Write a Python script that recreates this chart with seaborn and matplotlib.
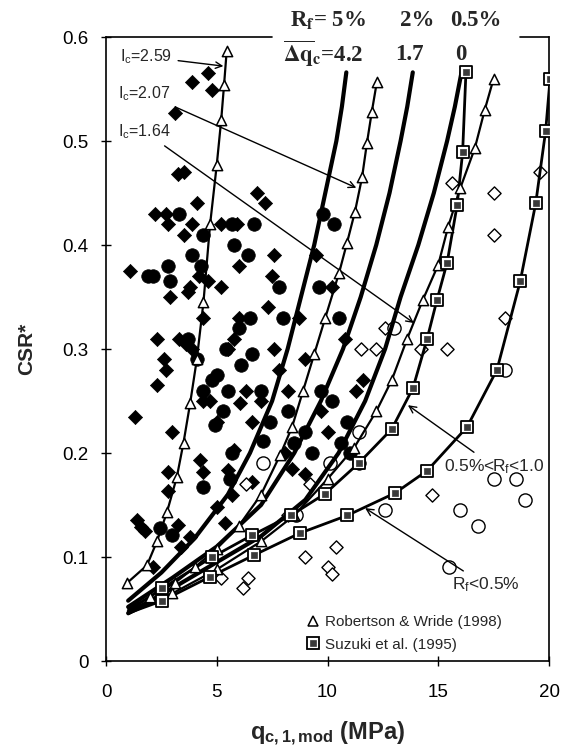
import numpy as np
import pandas as pd
import seaborn as sns
import matplotlib
matplotlib.use("Agg")
import matplotlib.pyplot as plt
from matplotlib.lines import Line2D
from matplotlib.legend_handler import HandlerTuple

# ---------------- data ----------------
# Robertson & Wride (1998) curves (triangles)
ic259_q = [0.95, 1.85, 2.3, 2.75, 3.2, 3.5, 3.8, 4.1, 4.4, 4.7, 5.0, 5.2, 5.33, 5.45]
ic259_csr = [0.075, 0.092, 0.115, 0.143, 0.177, 0.21, 0.248, 0.29, 0.345, 0.42, 0.477, 0.52, 0.554, 0.587]
ic207_q = [1.0, 2.0, 3.1, 4.0, 5.0, 6.0, 7.0, 7.86, 8.4, 8.9, 9.4, 9.9, 10.52, 10.88, 11.24, 11.56, 11.78, 12.0, 12.23]
ic207_csr = [0.05, 0.062, 0.075, 0.09, 0.108, 0.13, 0.16, 0.198, 0.225, 0.26, 0.295, 0.33, 0.373, 0.402, 0.432, 0.465, 0.498, 0.528, 0.557]
ic164_q = [1.0, 3.0, 5.0, 7.0, 8.5, 10.0, 11.2, 12.2, 12.9, 13.6, 14.3, 15.0, 15.44, 16.0, 16.65, 17.1, 17.5]
ic164_csr = [0.045, 0.065, 0.088, 0.115, 0.14, 0.175, 0.205, 0.24, 0.27, 0.31, 0.347, 0.381, 0.417, 0.455, 0.493, 0.53, 0.56]

# proposed boundaries (thick)
rf5_q = [1.0, 2.5, 4.0, 5.5, 6.5, 7.5, 8.2, 8.8, 9.4, 9.9, 10.4, 10.65, 10.85]
rf5_csr = [0.058, 0.085, 0.118, 0.16, 0.2, 0.25, 0.3, 0.35, 0.4, 0.45, 0.5, 0.533, 0.566]
rf2_q = [1.0, 3.0, 5.0, 7.0, 8.5, 9.7, 10.7, 11.5, 12.2, 12.8, 13.3, 13.6, 13.85]
rf2_csr = [0.052, 0.08, 0.11, 0.15, 0.2, 0.25, 0.3, 0.35, 0.4, 0.45, 0.5, 0.533, 0.566]
rf05_q = [1.0, 3.0, 5.0, 7.0, 9.0, 10.5, 11.7, 12.6, 13.3, 14.1, 14.8, 15.4, 15.75, 16.05]
rf05_csr = [0.046, 0.07, 0.095, 0.12, 0.155, 0.2, 0.25, 0.3, 0.35, 0.4, 0.45, 0.5, 0.533, 0.566]

# Suzuki et al. (1995) curves (squares)
suz_mid_q = [1.0, 2.55, 4.8, 6.6, 8.35, 9.9, 11.4, 12.9, 13.86, 14.5, 14.94, 15.4, 15.85, 16.1, 16.25]
suz_mid_csr = [0.048, 0.07, 0.1, 0.121, 0.14, 0.161, 0.19, 0.223, 0.2625, 0.31, 0.347, 0.383, 0.438, 0.489, 0.566]
suz_low_q = [1.0, 2.55, 4.7, 6.7, 8.76, 10.9, 13.05, 14.5, 16.3, 17.65, 18.7, 19.4, 19.85, 20.05]
suz_low_csr = [0.046, 0.058, 0.081, 0.102, 0.123, 0.14, 0.1615, 0.183, 0.225, 0.28, 0.365, 0.44, 0.51, 0.56]

# case-history points
fd_q = [4.6, 3.9, 4.8, 3.1, 3.25, 1.1, 1.3, 1.4, 1.6, 1.75, 2.2, 2.7, 2.3, 2.6, 2.7, 2.3, 2.8, 2.9, 2.8, 2.8,
        3.0, 3.25, 3.8, 3.5, 3.5, 3.9, 4.1, 3.8, 3.7, 4.2, 4.6, 4.4, 3.3, 3.6, 3.9, 4.4, 4.7, 5.0, 4.24, 4.38,
        5.5, 5.8, 6.05, 5.0, 5.37, 5.7, 6.6, 2.1, 3.4, 5.5, 5.8, 6.0, 5.2, 5.9, 6.0, 5.2, 6.8, 7.2, 6.3, 6.6,
        7.0, 7.3, 7.6, 7.5, 8.2, 8.7, 9.0, 8.1, 8.4, 9.0, 9.5, 10.2, 10.8, 9.7, 10.0, 11.3, 11.6, 7.6, 7.8]
fd_csr = [0.565, 0.557, 0.549, 0.527, 0.468, 0.375, 0.235, 0.136, 0.129, 0.125, 0.43, 0.43, 0.31, 0.29, 0.28, 0.265, 0.42, 0.35, 0.182, 0.163,
          0.22, 0.131, 0.119, 0.47, 0.41, 0.42, 0.44, 0.36, 0.355, 0.37, 0.365, 0.33, 0.31, 0.305, 0.30, 0.25, 0.25, 0.23, 0.193, 0.182,
          0.184, 0.203, 0.248, 0.148, 0.133, 0.16, 0.172, 0.09, 0.11, 0.3, 0.31, 0.33, 0.42, 0.42, 0.38, 0.36, 0.45, 0.44, 0.26, 0.23,
          0.25, 0.34, 0.39, 0.37, 0.26, 0.33, 0.29, 0.2, 0.185, 0.18, 0.39, 0.36, 0.31, 0.24, 0.22, 0.26, 0.27, 0.3, 0.28]
fc_q = [1.9, 2.1, 2.8, 2.9, 2.44, 2.98, 3.3, 3.9, 4.4, 4.3, 3.7, 4.1, 4.4, 4.8, 5.0, 5.5, 4.9, 4.38, 7.1, 7.4,
        5.3, 5.6, 5.7, 5.4, 6.0, 6.1, 5.7, 6.7, 6.4, 5.8, 6.5, 6.6, 7.0, 7.8, 8.0, 8.2, 8.5, 9.0, 9.3, 9.6,
        9.8, 10.3, 10.5, 10.2, 10.9, 10.6, 9.7, 11.0, 11.4]
fc_csr = [0.37, 0.37, 0.38, 0.365, 0.128, 0.121, 0.43, 0.39, 0.41, 0.38, 0.31, 0.29, 0.26, 0.27, 0.275, 0.26, 0.227, 0.167, 0.212, 0.23,
          0.24, 0.175, 0.2, 0.3, 0.32, 0.285, 0.42, 0.42, 0.39, 0.4, 0.33, 0.295, 0.26, 0.36, 0.33, 0.24, 0.21, 0.22, 0.2, 0.36,
          0.43, 0.42, 0.33, 0.25, 0.23, 0.21, 0.26, 0.2, 0.19]
od_q = [6.2, 6.4, 5.2, 9.0, 10.0, 10.4, 10.2, 12.2, 14.2, 15.4, 15.6, 17.5, 17.5, 18.0, 19.6, 6.3, 8.2, 9.2, 11.5, 14.7, 12.6]
od_csr = [0.07, 0.08, 0.08, 0.1, 0.09, 0.11, 0.084, 0.3, 0.3, 0.3, 0.46, 0.45, 0.41, 0.33, 0.47, 0.17, 0.14, 0.17, 0.3, 0.16, 0.32]
oc_q = [7.1, 10.1, 11.4, 13.0, 12.6, 15.5, 16.0, 16.8, 17.5, 18.0, 18.5, 18.9, 8.6]
oc_csr = [0.19, 0.19, 0.22, 0.32, 0.145, 0.09, 0.145, 0.13, 0.175, 0.28, 0.175, 0.155, 0.14]

x_ticks = [0, 5, 10, 15, 20]
y_ticks = [0, 0.1, 0.2, 0.3, 0.4, 0.5, 0.6]
y_ticklabels = ["0", "0.1", "0.2", "0.3", "0.4", "0.5", "0.6"]

# ---------------- style ----------------
sns.set_style("ticks")
plt.rcParams["font.family"] = ["Liberation Sans", "DejaVu Sans"]
plt.rcParams["mathtext.fontset"] = "custom"
plt.rcParams["mathtext.rm"] = "Liberation Sans"
plt.rcParams["mathtext.it"] = "Liberation Sans"
plt.rcParams["mathtext.bf"] = "Liberation Sans:bold"

fig = plt.figure(figsize=(5.73, 7.54), dpi=100)
ax = fig.add_axes([106 / 573, 1 - 661 / 754, (549 - 106) / 573, (661 - 37) / 754])

SQ_IN = "#3a3a3a"

# scatter points
sns.scatterplot(x=fd_q, y=fd_csr, marker="D", s=52, color="black", edgecolor="black", linewidth=0.5, ax=ax, zorder=3)
sns.scatterplot(x=fc_q, y=fc_csr, marker="o", s=95, color="black", edgecolor="black", linewidth=0.5, ax=ax, zorder=3)
sns.scatterplot(x=od_q, y=od_csr, marker="D", s=45, facecolor="white", edgecolor="black", linewidth=1.0, ax=ax, zorder=3)
sns.scatterplot(x=oc_q, y=oc_csr, marker="o", s=90, facecolor="white", edgecolor="black", linewidth=1.0, ax=ax, zorder=3)

# thin curves with triangles
for qq, cc in [(ic259_q, ic259_csr), (ic207_q, ic207_csr), (ic164_q, ic164_csr)]:
    sns.lineplot(x=qq, y=cc, sort=False, estimator=None, color="black", lw=1.6, ax=ax, zorder=4)
sns.scatterplot(x=ic259_q, y=ic259_csr, marker="^", s=55, facecolor="white", edgecolor="black", linewidth=1.1, ax=ax, zorder=5)
sns.scatterplot(x=ic207_q[1:], y=ic207_csr[1:], marker="^", s=55, facecolor="white", edgecolor="black", linewidth=1.1, ax=ax, zorder=5)
sns.scatterplot(x=ic164_q[1:], y=ic164_csr[1:], marker="^", s=55, facecolor="white", edgecolor="black", linewidth=1.1, ax=ax, zorder=5)

# thick boundary curves
for qq, cc in [(rf5_q, rf5_csr), (rf2_q, rf2_csr), (rf05_q, rf05_csr)]:
    sns.lineplot(x=qq, y=cc, sort=False, estimator=None, color="black", lw=3.0, ax=ax, zorder=4)

# Suzuki curves with squares
for qq, cc in [(suz_mid_q, suz_mid_csr), (suz_low_q, suz_low_csr)]:
    sns.lineplot(x=qq, y=cc, sort=False, estimator=None, color="black", lw=2.0, ax=ax, zorder=4)
    sns.scatterplot(x=qq[1:], y=cc[1:], marker="s", s=70, facecolor="white", edgecolor="black", linewidth=1.3, ax=ax, zorder=5)
    sns.scatterplot(x=qq[1:], y=cc[1:], marker="s", s=24, color=SQ_IN, edgecolor=SQ_IN, linewidth=0.5, ax=ax, zorder=6)

# axes
ax.set_xlim(0, 20)
ax.set_ylim(0, 0.6)
ax.set_xticks(x_ticks)
ax.set_yticks(y_ticks)
ax.set_yticklabels(y_ticklabels)
ax.tick_params(axis="both", direction="inout", length=7, width=1.0, labelsize=13.5, colors="black")
ax.tick_params(axis="x", pad=13)
ax.tick_params(axis="y", pad=9)
for side in ["left", "bottom", "right"]:
    ax.spines[side].set_visible(True)
    ax.spines[side].set_linewidth(1.2)
    ax.spines[side].set_color("black")
ax.spines["top"].set_visible(False)
ax.plot([0, 0.375], [1, 1], transform=ax.transAxes, color="black", lw=1.2, clip_on=False)
ax.plot([0.935, 1], [1, 1], transform=ax.transAxes, color="black", lw=1.2, clip_on=False)

ax.set_xlabel(r"$\mathbf{q_{c,1,mod}}$ (MPa)", fontsize=17, fontweight="bold")
ax.xaxis.set_label_coords(0.5, -0.095)
ax.set_ylabel("CSR*", fontsize=15, fontweight="bold")
ax.yaxis.set_label_coords(-0.158, 0.5)

# legend
tri_h = Line2D([], [], ls="", marker="^", ms=7, mfc="white", mec="black", mew=1.1)
sq_out = Line2D([], [], ls="", marker="s", ms=8, mfc="white", mec="black", mew=1.3)
sq_in = Line2D([], [], ls="", marker="s", ms=4.5, mfc=SQ_IN, mec=SQ_IN, mew=0.5)
ax.legend([tri_h, (sq_out, sq_in)], ["Robertson & Wride (1998)", "Suzuki et al. (1995)"], loc="lower left",
          bbox_to_anchor=(0.44, 0.005), frameon=False, fontsize=11, handlelength=0.8,
          handletextpad=0.4, labelspacing=0.55, borderaxespad=0,
          handler_map={tuple: HandlerTuple(ndivide=1, pad=0)})

# annotations
arrow = dict(arrowstyle="->", color="black", lw=1.0, shrinkA=2, shrinkB=0)
ax.annotate(r"I$_\mathrm{c}$=2.59", xy=(5.3, 0.572), xytext=(0.63, 0.581), fontsize=11.5,
            va="center", ha="left", arrowprops=arrow)
ax.annotate(r"I$_\mathrm{c}$=2.07", xy=(11.3, 0.455), xytext=(0.55, 0.546), fontsize=11.5,
            va="center", ha="left", arrowprops=arrow)
ax.annotate(r"I$_\mathrm{c}$=1.64", xy=(13.9, 0.325), xytext=(0.55, 0.509), fontsize=11.5,
            va="center", ha="left", arrowprops=arrow)
ax.annotate(r"0.5%<R$_\mathrm{f}$<1.0", xy=(13.63, 0.246), xytext=(15.25, 0.187), fontsize=12.5,
            va="center", ha="left", arrowprops=arrow)
ax.annotate(r"R$_\mathrm{f}$<0.5%", xy=(11.7, 0.147), xytext=(15.6, 0.073), fontsize=12.5,
            va="center", ha="left", arrowprops=arrow)

# header (Rf and delta qc)
hdr = dict(fontsize=16.5, fontweight="bold", family="Liberation Serif", math_fontfamily="stix",
           va="center", ha="left")
fig.text(290 / 573, 0.973, r"R$_\mathbf{f}$= 5%", **hdr)
fig.text(400 / 573, 0.973, "2%", **hdr)
fig.text(450 / 573, 0.973, "0.5%", **hdr)
fig.text(283 / 573, 0.928, r"$\overline{\mathbf{\Delta q}}_\mathbf{c}$=4.2", **hdr)
fig.text(395 / 573, 0.928, "1.7", **hdr)
fig.text(455 / 573, 0.928, "0", **hdr)

fig.savefig("out.png", dpi=100)
